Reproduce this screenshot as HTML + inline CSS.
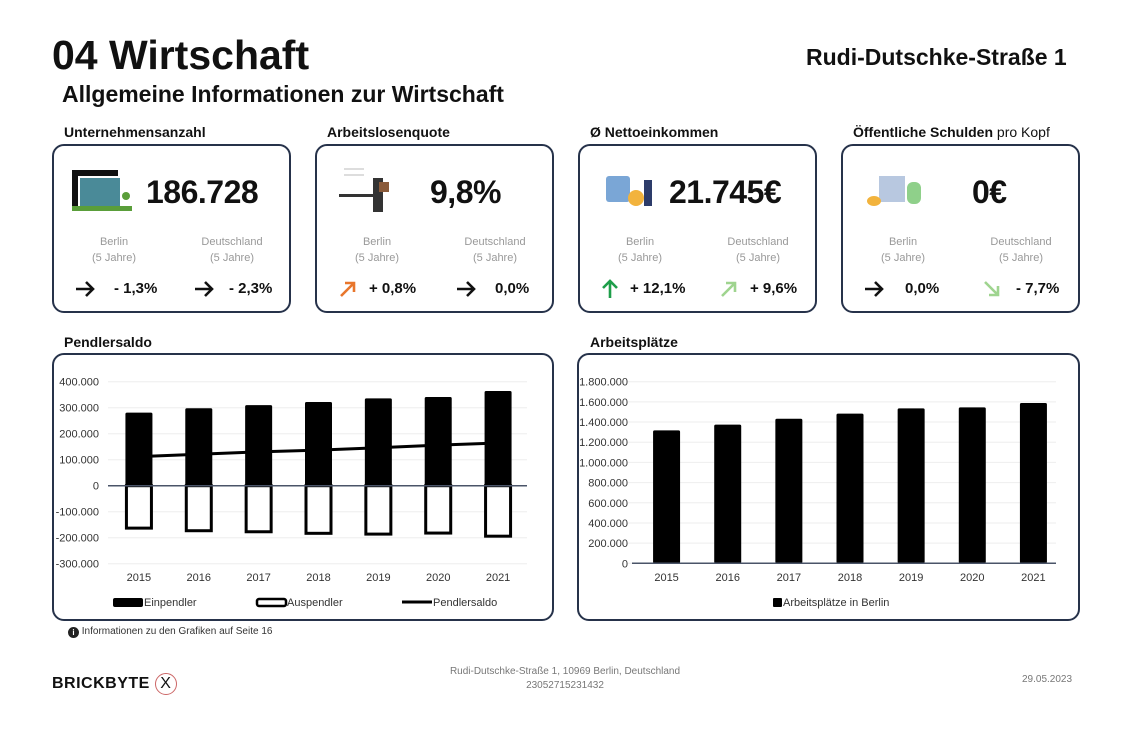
<!DOCTYPE html>
<html><head><meta charset="utf-8"><style>
body{margin:0;width:1130px;height:740px;background:#fff;font-family:"Liberation Sans",sans-serif;position:relative;overflow:hidden;color:#111}
.a{position:absolute}
.card{position:absolute;border:2px solid #26324a;border-radius:12px;box-sizing:border-box;background:#fff}
.ct{position:absolute;font-weight:bold;font-size:14px}
.big{position:absolute;font-weight:bold;font-size:32px;letter-spacing:-0.5px}
.lbl{position:absolute;font-size:11px;color:#999;text-align:center;width:90px;line-height:16px}
.val{position:absolute;font-weight:bold;font-size:15px}
.arr{position:absolute;width:22px;height:22px}
</style></head><body>
<div class="a" style="left:52px;top:32px;font-size:41px;font-weight:bold">04 Wirtschaft</div>
<div class="a" style="left:806px;top:44px;font-size:23px;font-weight:bold">Rudi-Dutschke-Straße 1</div>
<div class="a" style="left:62px;top:81px;font-size:23px;font-weight:bold">Allgemeine Informationen zur Wirtschaft</div>

<div class="ct" style="left:64px;top:124px">Unternehmensanzahl</div>
<div class="ct" style="left:327px;top:124px">Arbeitslosenquote</div>
<div class="ct" style="left:590px;top:124px">Ø Nettoeinkommen</div>
<div class="ct" style="left:853px;top:124px">Öffentliche Schulden <span style="font-weight:normal">pro Kopf</span></div>

<div class="card" style="left:52px;top:144px;width:239px;height:169px">
 <div class="a" style="left:18px;top:24px;width:58px;height:42px">
  <div class="a" style="left:0;top:0;width:46px;height:6px;background:#111"></div>
  <div class="a" style="left:0;top:0;width:6px;height:40px;background:#111"></div>
  <div class="a" style="left:8px;top:8px;width:40px;height:28px;background:#4a8a98"></div>
  <div class="a" style="left:0;top:36px;width:60px;height:5px;background:#5a9e3a"></div>
  <div class="a" style="left:50px;top:22px;width:8px;height:8px;border-radius:50%;background:#5a9e3a"></div>
 </div>
 <div class="big" style="left:92px;top:28px">186.728</div>
 <div class="lbl" style="left:15px;top:88px">Berlin<br>(5 Jahre)</div>
 <div class="lbl" style="left:133px;top:88px">Deutschland<br>(5 Jahre)</div>
 <svg class="arr" style="left:20px;top:132px" viewBox="0 0 22 22"><path d="M2 11H19M12 4L19 11L12 18" fill="none" stroke="#111" stroke-width="2.6"/></svg>
 <div class="val" style="left:60px;top:134px">- 1,3%</div>
 <svg class="arr" style="left:139px;top:132px" viewBox="0 0 22 22"><path d="M2 11H19M12 4L19 11L12 18" fill="none" stroke="#111" stroke-width="2.6"/></svg>
 <div class="val" style="left:175px;top:134px">- 2,3%</div>
</div>

<div class="card" style="left:315px;top:144px;width:239px;height:169px">
 <div class="a" style="left:22px;top:22px;width:50px;height:46px">
  <div class="a" style="left:5px;top:0;width:20px;height:2px;background:#ddd"></div>
  <div class="a" style="left:5px;top:6px;width:20px;height:2px;background:#ddd"></div>
  <div class="a" style="left:0;top:26px;width:36px;height:3px;background:#333"></div>
  <div class="a" style="left:34px;top:10px;width:10px;height:34px;background:#333"></div>
  <div class="a" style="left:40px;top:14px;width:10px;height:10px;background:#8a5a3a"></div>
 </div>
 <div class="big" style="left:113px;top:28px">9,8%</div>
 <div class="lbl" style="left:15px;top:88px">Berlin<br>(5 Jahre)</div>
 <div class="lbl" style="left:133px;top:88px">Deutschland<br>(5 Jahre)</div>
 <svg class="arr" style="left:20px;top:132px" viewBox="0 0 22 22"><path d="M4 18L17 5M8 5H17V14" fill="none" stroke="#e8762c" stroke-width="2.6"/></svg>
 <div class="val" style="left:52px;top:134px">+ 0,8%</div>
 <svg class="arr" style="left:138px;top:132px" viewBox="0 0 22 22"><path d="M2 11H19M12 4L19 11L12 18" fill="none" stroke="#111" stroke-width="2.6"/></svg>
 <div class="val" style="left:178px;top:134px">0,0%</div>
</div>

<div class="card" style="left:578px;top:144px;width:239px;height:169px">
 <div class="a" style="left:18px;top:30px;width:58px;height:34px">
  <div class="a" style="left:8px;top:0;width:24px;height:26px;background:#7aa6d6;border-radius:3px"></div>
  <div class="a" style="left:30px;top:14px;width:16px;height:16px;border-radius:50%;background:#f2b33d"></div>
  <div class="a" style="left:46px;top:4px;width:8px;height:26px;background:#2d3c6a"></div>
 </div>
 <div class="big" style="left:89px;top:28px">21.745€</div>
 <div class="lbl" style="left:15px;top:88px">Berlin<br>(5 Jahre)</div>
 <div class="lbl" style="left:133px;top:88px">Deutschland<br>(5 Jahre)</div>
 <svg class="arr" style="left:19px;top:132px" viewBox="0 0 22 22"><path d="M11 20V3M4 10L11 3L18 10" fill="none" stroke="#1e9e4a" stroke-width="2.6"/></svg>
 <div class="val" style="left:50px;top:134px">+ 12,1%</div>
 <svg class="arr" style="left:138px;top:132px" viewBox="0 0 22 22"><path d="M4 18L17 5M8 5H17V14" fill="none" stroke="#9fd48f" stroke-width="2.6"/></svg>
 <div class="val" style="left:170px;top:134px">+ 9,6%</div>
</div>

<div class="card" style="left:841px;top:144px;width:239px;height:169px">
 <div class="a" style="left:24px;top:26px;width:56px;height:40px">
  <div class="a" style="left:12px;top:4px;width:26px;height:26px;background:#b8c8e0"></div>
  <div class="a" style="left:0;top:24px;width:14px;height:10px;border-radius:50%;background:#f2b33d"></div>
  <div class="a" style="left:40px;top:10px;width:14px;height:22px;background:#8fd08a;border-radius:6px"></div>
 </div>
 <div class="big" style="left:129px;top:28px">0€</div>
 <div class="lbl" style="left:15px;top:88px">Berlin<br>(5 Jahre)</div>
 <div class="lbl" style="left:133px;top:88px">Deutschland<br>(5 Jahre)</div>
 <svg class="arr" style="left:20px;top:132px" viewBox="0 0 22 22"><path d="M2 11H19M12 4L19 11L12 18" fill="none" stroke="#111" stroke-width="2.6"/></svg>
 <div class="val" style="left:62px;top:134px">0,0%</div>
 <svg class="arr" style="left:138px;top:132px" viewBox="0 0 22 22"><path d="M4 4L17 17M17 8V17H8" fill="none" stroke="#9fd48f" stroke-width="2.6"/></svg>
 <div class="val" style="left:173px;top:134px">- 7,7%</div>
</div>

<div class="ct" style="left:64px;top:334px">Pendlersaldo</div>
<div class="ct" style="left:590px;top:334px">Arbeitsplätze</div>
<div class="card" style="left:52px;top:353px;width:502px;height:268px"></div>
<div class="card" style="left:577px;top:353px;width:503px;height:268px"></div>
<svg id="svg" class="a" style="left:0;top:0" width="1130" height="740" font-family="Liberation Sans, sans-serif"></svg>

<div class="a" style="left:68px;top:626px;font-size:10px;color:#333"><span style="display:inline-block;width:11px;height:11px;border-radius:50%;background:#222;color:#fff;font-size:8px;text-align:center;line-height:11px;font-weight:bold;vertical-align:-1px">i</span> Informationen zu den Grafiken auf Seite 16</div>
<div class="a" style="left:52px;top:673px;font-size:16px;font-weight:bold;letter-spacing:0.5px">BRICKBYTE <span style="display:inline-block;border:1px solid #c66;border-radius:50%;width:20px;height:20px;text-align:center;line-height:20px;font-weight:normal">X</span></div>
<div class="a" style="left:415px;top:665px;width:300px;text-align:center;font-size:10px;color:#777;line-height:14px">Rudi-Dutschke-Straße 1, 10969 Berlin, Deutschland<br>23052715231432</div>
<div class="a" style="left:1022px;top:674px;font-size:10px;color:#777">29.05.2023</div>

<script>
const years=["2015","2016","2017","2018","2019","2020","2021"];
const einpendler=[281000,298000,310000,322000,336000,341000,364000];
const auspendler=[-167000,-177000,-181000,-187000,-190000,-186000,-198000];
const pendlersaldo=[112000,121000,130000,137000,146000,156000,164000];
const pendlerTicks=[400000,300000,200000,100000,0,-100000,-200000,-300000];
const arbeitsplaetze=[1318000,1374000,1433000,1483000,1536000,1546000,1589000];
const apTicks=[1800000,1600000,1400000,1200000,1000000,800000,600000,400000,200000,0];

const svg=document.getElementById('svg');const NS='http://www.w3.org/2000/svg';
function mk(t,a,txt){const e=document.createElementNS(NS,t);for(const k in a)e.setAttribute(k,a[k]);if(txt!==undefined)e.textContent=txt;svg.appendChild(e);return e;}
function fmt(v){const s=Math.abs(v).toString().replace(/\B(?=(\d{3})+(?!\d))/g,'.');return (v<0?'-':'')+s;}

const pX0=108,pX1=527;
const py=v=>485.7-v*104/400000;
const pBand=(pX1-pX0)/years.length;
const px=i=>pX0+pBand*(i+0.5)+1;
pendlerTicks.forEach(t=>{
 const g=mk('line',{x1:pX0,x2:pX1,y1:py(t),y2:py(t),stroke:'#eee','stroke-width':1});
 
 const l=mk('text',{x:99,y:py(t)+4,'text-anchor':'end','font-size':11,fill:'#333'},fmt(t));
 
});
years.forEach((y,i)=>{
 const b=mk('rect',{x:px(i)-13.5,y:py(einpendler[i]),width:27,height:py(0)-py(einpendler[i]),fill:'#000',rx:1.5});
 
 const a=mk('rect',{x:px(i)-12.5,y:py(0),width:25,height:py(auspendler[i])-py(0)-1,fill:'#fff',stroke:'#000','stroke-width':3});
 
 const l=mk('text',{x:px(i),y:581,'text-anchor':'middle','font-size':11,fill:'#333'},y);
 
});
const z=mk('line',{x1:pX0,x2:pX1,y1:py(0),y2:py(0),stroke:'#4a5468','stroke-width':1.5});

const ln=mk('polyline',{points:pendlersaldo.map((v,i)=>px(i)+','+py(v)).join(' '),fill:'none',stroke:'#000','stroke-width':3});

let e=mk('rect',{x:113,y:598,width:30,height:9,fill:'#000',rx:2});
e=mk('text',{x:144,y:606,'font-size':11,fill:'#333'},'Einpendler');
e=mk('rect',{x:257,y:599,width:29,height:7,fill:'#fff',stroke:'#000','stroke-width':2.5,rx:2});
e=mk('text',{x:287,y:606,'font-size':11,fill:'#333'},'Auspendler');
e=mk('line',{x1:402,x2:432,y1:602,y2:602,stroke:'#000','stroke-width':3});
e=mk('text',{x:433,y:606,'font-size':11,fill:'#333'},'Pendlersaldo');

const aX0=628,aX1=1056;
const ay=v=>563.3-v*181.6/1800000;
const aBand=(aX1-aX0)/years.length;
const ax=i=>aX0+aBand*(i+0.5)+8;
apTicks.forEach(t=>{
 const g=mk('line',{x1:aX0,x2:aX1,y1:ay(t),y2:ay(t),stroke:'#eee','stroke-width':1});
 
 const l=mk('text',{x:628,y:ay(t)+4,'text-anchor':'end','font-size':11,fill:'#333'},fmt(t));
 
});
years.forEach((y,i)=>{
 const b=mk('rect',{x:ax(i)-13.5,y:ay(arbeitsplaetze[i]),width:27,height:ay(0)-ay(arbeitsplaetze[i]),fill:'#000',rx:1.5});
 
 const l=mk('text',{x:ax(i),y:581,'text-anchor':'middle','font-size':11,fill:'#333'},y);
 
});
e=mk('line',{x1:aX0+4,x2:aX1,y1:ay(0),y2:ay(0),stroke:'#4a5468','stroke-width':1.5});
e=mk('rect',{x:773,y:598,width:9,height:9,fill:'#000',rx:1});
e=mk('text',{x:783,y:606,'font-size':11,fill:'#333'},'Arbeitsplätze in Berlin');
</script>
</body></html>
